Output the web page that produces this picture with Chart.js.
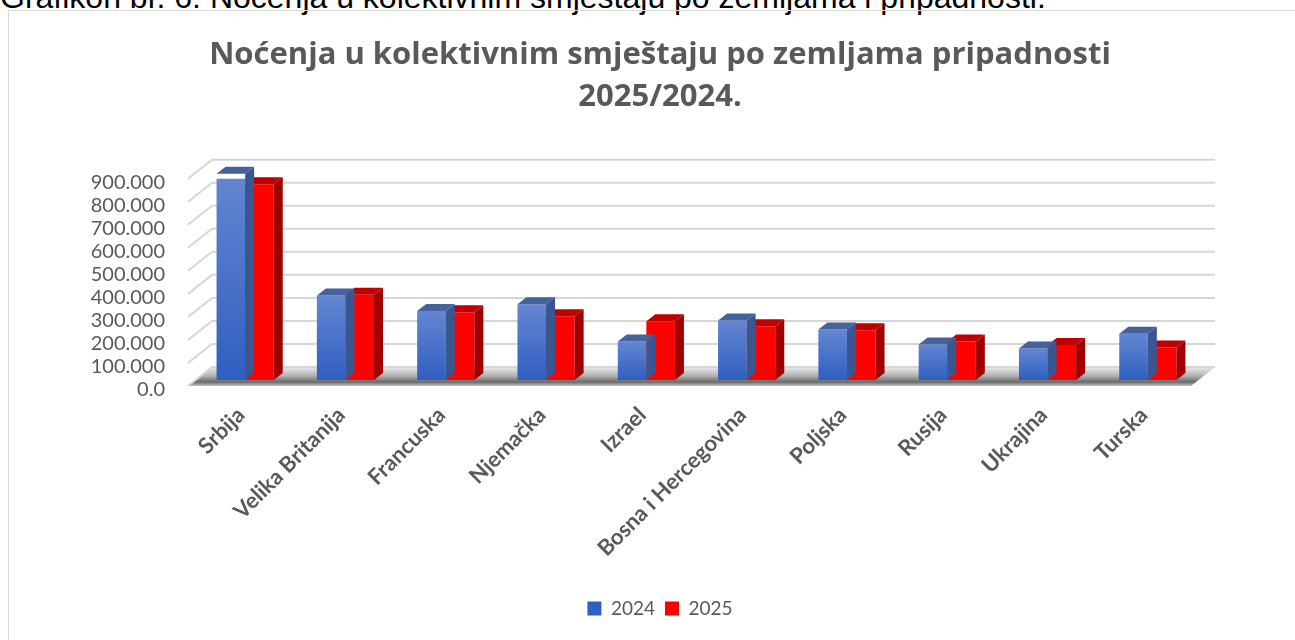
<!DOCTYPE html>
<html>
<head>
<meta charset="utf-8">
<script src="https://cdn.jsdelivr.net/npm/chart.js@4/dist/chart.umd.min.js"></script>
<style>
  html, body { margin: 0; padding: 0; background: #fff; overflow: hidden; }
  #caption {
    position: absolute; left: 0; top: -19px;
    font: 32px/32px "Liberation Sans", Arial, sans-serif;
    color: #000; white-space: nowrap;
  }
  #frame {
    position: absolute; left: 8px; top: 10px; width: 1300px; height: 640px;
    border: 1px solid #d9d9d9; box-sizing: border-box;
  }
  #wrap { position: absolute; left: 0; top: 0; width: 1295px; height: 640px; overflow: hidden; }
</style>
</head>
<body>
<div id="caption">Grafikon br. 6: Noćenja u kolektivnim smještaju po zemljama i pripadnosti.</div>
<div id="frame"></div>
<div id="wrap"><canvas id="chart" width="1320" height="640"></canvas></div>
<script>
// ===================== //
//  Données du graphique //
// ===================== //
const categories = ["Srbija", "Velika Britanija", "Francuska", "Njemačka", "Izrael",
                    "Bosna i Hercegovina", "Poljska", "Rusija", "Ukrajina", "Turska"];
const series2024 = [896000, 367000, 300000, 329000, 167000, 258000, 219000, 154000, 137000, 201000];
const series2025 = [850000, 370000, 294000, 277000, 255000, 233000, 216000, 167000, 152000, 141000];
const yTicks = [0, 100000, 200000, 300000, 400000, 500000, 600000, 700000, 800000, 900000];

const GREY = "#595959";

// profondeur des barres et du mur (effet 3D)
const BAR_DX = 9, BAR_DY = -7;
const WALL_DX = 24, WALL_DY = -19;
const BAR_LIFT = 26000;   // les barres sont un peu en retrait du plan avant

const topColors = ["#45629c", "#c00000"];
const sideColors = ["#3a5690", "#a00000"];

function blueFill(c) {
    const chart = c.chart;
    if (!chart.chartArea || c.parsed === undefined) return "#4a74c9";
    const s = chart.scales.yBar;
    const top = s.getPixelForValue(c.parsed.y);
    const bottom = s.getPixelForValue(0);
    const g = chart.ctx.createLinearGradient(0, top, 0, bottom);
    g.addColorStop(0, "#6486d2");
    g.addColorStop(1, "#2f5fc0");
    return g;
}

// mur du fond, sol et lignes de grille
const wall3d = {
    id: "wall3d",
    beforeDatasetsDraw(chart) {
        const { ctx, chartArea: a, scales: { y } } = chart;
        const x0 = a.left - 7, x1 = a.right - 7;
        const yb = a.bottom;
        ctx.save();

        // sol
        const g = ctx.createLinearGradient(0, yb + WALL_DY, 0, yb + 1);
        g.addColorStop(0, "#ececec");
        g.addColorStop(0.45, "#b0b0b0");
        g.addColorStop(0.75, "#6a6a6a");
        g.addColorStop(1, "#dadada");
        ctx.fillStyle = g;
        ctx.beginPath();
        ctx.moveTo(x0, yb);
        ctx.lineTo(x1, yb);
        ctx.lineTo(x1 + WALL_DX, yb + WALL_DY);
        ctx.lineTo(x0 + WALL_DX, yb + WALL_DY);
        ctx.closePath();
        ctx.fill();

        // grille
        ctx.strokeStyle = "#d6d6d6";
        ctx.lineWidth = 2;
        yTicks.forEach(v => {
            const py = y.getPixelForValue(v);
            ctx.beginPath();
            ctx.moveTo(x0, py);
            ctx.lineTo(x0 + WALL_DX, py + WALL_DY);
            ctx.lineTo(x1 + WALL_DX, py + WALL_DY);
            ctx.stroke();
        });
        ctx.restore();
    },
    afterDatasetDraw(chart, args) {
        const ctx = chart.ctx;
        const i = args.index;
        ctx.save();
        args.meta.data.forEach(bar => {
            const { x, y, base, width } = bar.getProps(["x", "y", "base", "width"], true);
            const l = x - width / 2, r = x + width / 2;
            // face du dessus
            ctx.fillStyle = topColors[i];
            ctx.beginPath();
            ctx.moveTo(l, y);
            ctx.lineTo(l + BAR_DX, y + BAR_DY);
            ctx.lineTo(r + BAR_DX, y + BAR_DY);
            ctx.lineTo(r, y);
            ctx.closePath();
            ctx.fill();
            // face de côté
            ctx.fillStyle = sideColors[i];
            ctx.beginPath();
            ctx.moveTo(r, y);
            ctx.lineTo(r + BAR_DX, y + BAR_DY);
            ctx.lineTo(r + BAR_DX, base + BAR_DY);
            ctx.lineTo(r, base);
            ctx.closePath();
            ctx.fill();
        });
        ctx.restore();
    }
};

new Chart(document.getElementById("chart").getContext("2d"), {
    type: "bar",
    data: {
        labels: categories,
        datasets: [
            { label: "2024", data: series2024, yAxisID: "yBar", backgroundColor: blueFill },
            { label: "2025", data: series2025, yAxisID: "yBar", backgroundColor: "#ff0000" }
        ]
    },
    options: {
        responsive: false,
        animation: false,
        devicePixelRatio: 1,
        categoryPercentage: 0.57,
        barPercentage: 1,
        layout: { padding: { left: 0, right: 0, top: 0, bottom: 12 } },
        scales: {
            x: {
                grid: { display: false },
                border: { display: false },
                ticks: {
                    autoSkip: false, minRotation: 45, maxRotation: 45, padding: 8, labelOffset: -4,
                    color: GREY, font: { family: "Lato", size: 22, weight: "bold" }
                },
                afterFit(s) { s.height = 203; }
            },
            y: {
                min: 0, max: 900000,
                grid: { display: false },
                border: { display: false },
                afterBuildTicks(s) { s.ticks = yTicks.map(v => ({ value: v })); },
                ticks: {
                    autoSkip: false, padding: 22, labelOffset: 4,
                    color: GREY, font: { family: "Lato", size: 20 },
                    callback: v => v === 0 ? "0.0" : (v / 1000) + ".000"
                },
                afterFit(s) { s.width = 195; }
            },
            yBar: {
                display: false,
                min: -BAR_LIFT, max: 900000 - BAR_LIFT
            },
            // axe vide à droite, pour centrer titre et légende comme l'original
            yRight: {
                position: "right",
                grid: { display: false },
                border: { display: false },
                ticks: { display: false },
                afterFit(s) { s.width = 122; }
            }
        },
        plugins: {
            title: {
                display: true,
                text: ["Noćenja u kolektivnim smještaju po zemljama pripadnosti", "2025/2024."],
                color: GREY,
                font: { family: "Open Sans", size: 31, weight: "bold", lineHeight: 1.35 },
                padding: { top: 34, bottom: 61 }
            },
            legend: {
                position: "bottom",
                labels: {
                    boxWidth: 14, boxHeight: 14, padding: 10,
                    color: GREY, font: { family: "Lato", size: 19 }
                }
            },
            tooltip: { enabled: false }
        }
    },
    plugins: [wall3d]
});
</script>
</body>
</html>
